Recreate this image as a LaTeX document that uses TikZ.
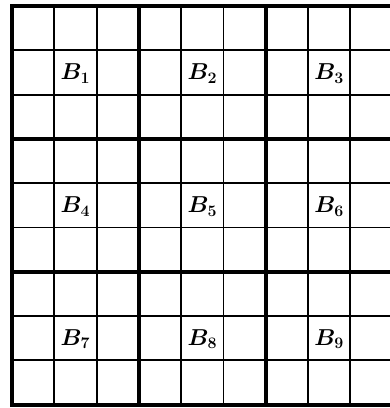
\documentclass[tikz,border=0pt]{standalone}
\usepackage{amsmath,amssymb}
\usepackage{tikz}
\usetikzlibrary{positioning}
\tikzset{
  cellline/.style={draw=black, line width=1.4pt},
  blockline/.style={draw=black, line width=3pt},
  blabel/.style={font=\fontsize{17}{19}\selectfont\boldmath, inner sep=0pt},
}

\begin{document}
\begin{tikzpicture}[x=0.75pt,y=-0.75pt]
  \useasboundingbox (0,0) rectangle (390,408);
  \clip (0,0) rectangle (390,408);
  % cells
  \foreach \i in {0,...,9} {
    \draw[cellline] (12+42.3*\i,6) -- (12+42.3*\i,404.7);
    \draw[cellline] (12,6+44.3*\i) -- (392.7,6+44.3*\i);
  }
  % blocks
  \foreach \i in {0,3,6,9} {
    \draw[blockline] (12+42.3*\i,6) -- (12+42.3*\i,404.7);
    \draw[blockline] (12,6+44.3*\i) -- (392.7,6+44.3*\i);
  }
  \draw[blockline] (12,6) rectangle (392.7,404.7);
  % block names
  \foreach \r in {0,1,2} {
    \foreach \c in {0,1,2} {
      \pgfmathtruncatemacro{\k}{3*\r+\c+1}
      \node[blabel] (b\k) at (12+42.3*3*\c+63.5,6+44.3*3*\r+67.5) {$B_{\k}$};
    }
  }
\end{tikzpicture}
\end{document}
